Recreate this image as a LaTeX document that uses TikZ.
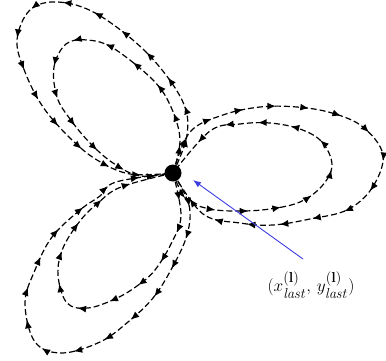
\documentclass[tikz,border=0pt]{standalone}
\usepackage{amsmath, amssymb, xcolor, tikz}
\usetikzlibrary{arrows.meta,decorations.markings,positioning}
\definecolor{pointblue}{RGB}{60,60,225}

\begin{document}
\begin{tikzpicture}[x=1pt, y=-1pt,
		orbit/.style={line width=1.2pt, dash pattern=on 6pt off 3pt, postaction={decorate},
			decoration={markings, mark=between positions 0.07 and 0.96 step 33pt with {\arrow{Latex[length=8.5pt,width=7pt]}}}},
		pointer/.style={pointblue, line width=0.9pt, -{Latex[length=8pt,width=6pt]}},
		every node/.style={font=\fontsize{19}{21}\selectfont}]
				\useasboundingbox (0,0) rectangle (386,360);
				\coordinate (last) at (173,173);
				\draw[orbit] plot[smooth, tension=0.6] coordinates {(last) (187,135) (182,100) (147,53) (97,14) (58,2) (30,10) (17,40) (25,72) (43,107) (70,138) (97,160) (130,174) (last)};
				\draw[orbit] plot[smooth, tension=0.6] coordinates {(last) (180,140) (171,107) (153,80) (113,48) (87,40) (66,44) (54,67) (57,97) (70,119) (90,143) (113,163) (140,176) (last)};
				\draw[orbit] plot[smooth, tension=0.6] coordinates {(last) (190,132) (223,115) (260,107) (297,107) (332,113) (363,127) (383,155) (372,188) (347,210) (310,219) (273,225) (240,223) (203,214) (last)};
				\draw[orbit] plot[smooth, tension=0.6] coordinates {(last) (186,199) (210,209) (240,211) (270,209) (300,202) (322,186) (332,165) (322,142) (300,129) (270,123) (240,124) (210,131) (last)};
				\draw[orbit] plot[smooth, tension=0.6] coordinates {(last) (189,205) (187,235) (172,268) (153,298) (128,322) (100,342) (62,353) (35,342) (25,303) (35,270) (52,237) (80,210) (100,196) (116,182) (last)};
				\draw[orbit] plot[smooth, tension=0.6] coordinates {(last) (181,215) (172,242) (155,270) (137,286) (115,299) (88,308) (67,303) (58,275) (63,248) (80,221) (98,203) (121,187) (last)};
				\node[circle, fill, inner sep=0pt, minimum size=17pt] (dot) at (last) {};
				\node (label) at (311,285) {$(x_{\mathit{last}}^{\mathbf{(l)}},\, y_{\mathit{last}}^{\mathbf{(l)}})$};
				\coordinate (tail) at (303,259);
				\coordinate (tip) at (193,180);
				\draw[pointer] (tail) -- (tip);
			\end{tikzpicture}
\end{document}
